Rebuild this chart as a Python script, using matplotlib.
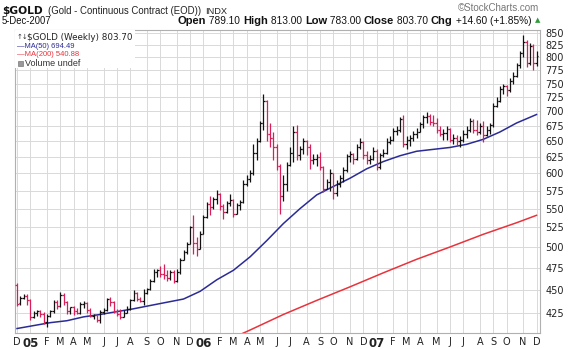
import numpy as np
import pandas as pd
import matplotlib
matplotlib.use("Agg")
import matplotlib.pyplot as plt
from matplotlib.collections import LineCollection
from matplotlib.patches import Rectangle
from matplotlib.ticker import NullLocator, FixedLocator

# ---- weekly $GOLD bars (week starting 6-Dec-2004) ----
first_week = "2004-12-06"

opens = [455, 435, 441, 443, 438, 420, 425, 427, 423, 415, 421, 427, 436, 432, 444, 436,
         427, 431, 427, 425, 434, 435, 428, 421, 422, 417, 426, 428, 439, 436, 427, 423,
         420, 425, 429, 438, 446, 440, 437, 446, 451, 460, 470, 472, 468, 466, 463, 470,
         460, 470, 484, 494, 504, 525, 505, 497, 517, 538, 556, 552, 563, 570, 553, 545,
         557, 562, 543, 555, 559, 584, 592, 600, 632, 650, 680, 718, 662, 655, 640, 612,
         568, 585, 613, 632, 665, 628, 638, 650, 640, 620, 622, 625, 610, 578, 588, 600,
         572, 585, 594, 605, 626, 630, 622, 640, 648, 628, 620, 622, 635, 610, 628, 632,
         648, 652, 666, 668, 686, 645, 652, 655, 662, 665, 678, 690, 692, 682, 680, 668,
         662, 664, 670, 652, 656, 650, 652, 662, 668, 684, 668, 665, 675, 660, 668, 676,
         710, 718, 740, 745, 738, 755, 765, 786, 808, 832, 789, 824, 789.10]
highs = [457, 443, 445, 445, 439, 427, 428, 428, 426, 424, 428, 438, 438, 447, 446, 437,
         431, 432, 430, 436, 437, 436, 430, 424, 422, 428, 430, 441, 442, 437, 429, 429,
         428, 432, 440, 449, 447, 442, 451, 452, 462, 474, 474, 477, 479, 472, 472, 472,
         474, 486, 496, 506, 527, 541, 513, 520, 541, 559, 567, 566, 576, 572, 556, 560,
         570, 563, 558, 562, 590, 598, 605, 645, 655, 684, 731, 720, 680, 665, 646, 615,
         598, 617, 640, 675, 676, 642, 655, 652, 645, 630, 630, 633, 612, 592, 607, 600,
         590, 598, 610, 630, 635, 632, 646, 656, 650, 635, 628, 640, 638, 632, 637, 655,
         658, 672, 675, 691, 693, 658, 660, 666, 672, 682, 693, 698, 696, 694, 688, 675,
         670, 675, 672, 662, 660, 658, 668, 675, 688, 687, 685, 680, 683, 675, 680, 715,
         725, 745, 750, 748, 760, 772, 790, 812, 846, 835, 830, 828, 813.00]
lows = [432, 433, 439, 433, 417, 419, 421, 420, 413, 410, 420, 425, 429, 431, 433, 424,
        424, 422, 423, 424, 430, 425, 420, 418, 415, 414, 423, 427, 432, 425, 421, 418,
        420, 425, 428, 437, 437, 436, 433, 445, 449, 459, 464, 464, 462, 460, 461, 457,
        458, 468, 484, 491, 504, 492, 489, 498, 516, 537, 541, 549, 556, 548, 536, 544,
        553, 538, 542, 548, 557, 582, 588, 598, 620, 648, 668, 651, 640, 620, 605, 543,
        561, 575, 612, 617, 620, 620, 630, 628, 607, 615, 612, 605, 573, 578, 575, 563,
        568, 580, 588, 602, 618, 615, 620, 638, 622, 615, 615, 620, 605, 606, 625, 630,
        645, 650, 660, 665, 640, 638, 642, 650, 655, 665, 672, 680, 676, 675, 664, 658,
        652, 652, 648, 645, 644, 640, 648, 655, 665, 664, 660, 662, 648, 658, 662, 674,
        708, 717, 730, 728, 735, 750, 762, 780, 800, 782, 786, 775, 783.00]
closes = [434, 441, 443, 438, 420, 425, 427, 423, 415, 421, 427, 436, 432, 444, 436, 427,
          431, 427, 425, 434, 435, 428, 421, 422, 417, 426, 428, 439, 436, 427, 423, 420,
          425, 429, 438, 446, 440, 437, 446, 451, 460, 470, 472, 468, 466, 463, 470, 460,
          470, 484, 494, 504, 525, 505, 497, 517, 538, 556, 552, 563, 570, 553, 545, 557,
          562, 543, 555, 559, 584, 592, 600, 632, 650, 680, 718, 662, 655, 640, 612, 568,
          585, 613, 632, 665, 628, 638, 650, 640, 620, 622, 625, 610, 578, 588, 600, 572,
          585, 594, 605, 626, 630, 622, 640, 648, 628, 620, 622, 635, 610, 628, 632, 648,
          652, 666, 668, 686, 645, 652, 655, 662, 665, 678, 690, 692, 682, 680, 668, 662,
          664, 670, 652, 656, 650, 652, 662, 668, 684, 668, 665, 675, 660, 668, 676, 710,
          718, 740, 745, 738, 755, 765, 786, 808, 832, 789, 824, 789.10, 803.70]

# ---- moving averages, sampled by week number ----
ma50_week = [0, 5, 10, 15, 20, 25, 30, 35, 40, 45, 50, 55, 60, 65, 70, 75,
             80, 85, 90, 95, 100, 105, 110, 115, 120, 125, 130, 135, 140, 145, 150, 156]
ma50_value = [408.5, 411.5, 414.5, 416.5, 420.5, 423, 426, 429, 432.5, 436, 439.5, 448,
              461, 472, 488, 508, 530, 550, 569, 581, 593, 607, 618, 627, 634, 637,
              640, 645, 653, 665, 680, 694.49]
ma200_week = [66, 70, 80, 90, 100, 110, 120, 130, 140, 150, 156]
ma200_value = [401, 407, 423, 438, 453, 469, 485, 500, 516, 531, 540.88]

price_ticks = [425, 450, 475, 500, 525, 550, 575, 600, 625, 650, 675, 700,
               725, 750, 775, 800, 825, 850]
month_letters = ["J", "F", "M", "A", "M", "J", "J", "A", "S", "O", "N", "D"]

UP = "#111111"
DOWN = "#d81e5b"
MA50_C = "#2b2b96"
MA200_C = "#e8333c"
GRID = "#d9d9d9"
SANS = "Liberation Sans"

W, H = 576, 349
fig = plt.figure(figsize=(W / 100, H / 100), dpi=100)
fig.patch.set_facecolor("white")
renderer = fig.canvas.get_renderer()


def fx(px):
    return px / W


def fy(py):
    return 1 - py / H


def fitted_text(x0, x1, yc, s, **kw):
    """Place a text between pixel columns x0..x1, sizing the font to that span."""
    t = fig.text(fx(x0), fy(yc), s, va="center", fontsize=10, **kw)
    w = t.get_window_extent(renderer).width
    t.set_fontsize(10 * (x1 - x0) / w)
    return t


ax = fig.add_axes([fx(15), fy(333), fx(525), 303 / H])

n = len(closes)
dates = pd.date_range(first_week, periods=n, freq="7D")

# OHLC bars, red when the close is below the previous close
segs, cols = [], []
prev = opens[0]
for i in range(n):
    c = DOWN if closes[i] < prev else UP
    segs += [[(i, lows[i]), (i, highs[i])],
             [(i - 0.5, opens[i]), (i, opens[i])],
             [(i, closes[i]), (i + 0.5, closes[i])]]
    cols += [c, c, c]
    prev = closes[i]
ax.add_collection(LineCollection(segs, colors=cols, linewidths=0.9, zorder=3))

ax.plot(ma50_week, ma50_value, color=MA50_C, lw=1.1, zorder=2)
ax.plot(ma200_week, ma200_value, color=MA200_C, lw=1.1, zorder=2)

ax.set_yscale("log")
ax.set_ylim(404.0, 856.4)
ax.set_xlim(-0.6, n - 1 + 1.05)

# price axis on the right
ax.yaxis.tick_right()
ax.yaxis.set_major_locator(FixedLocator(price_ticks))
ax.yaxis.set_minor_locator(NullLocator())
ax.set_yticklabels([str(v) for v in price_ticks])
ax.tick_params(axis="y", length=0, pad=4, labelsize=7, labelcolor="#222222")

# month ticks at the first bar of every month
tick_pos, tick_lab, is_year = [], [], []
for i, d in enumerate(dates):
    if i == 0 or d.month != dates[i - 1].month:
        tick_pos.append(i)
        if d.month == 1:
            tick_lab.append(d.strftime("%y"))
            is_year.append(True)
        else:
            tick_lab.append(month_letters[d.month - 1])
            is_year.append(False)
ax.set_xticks(tick_pos)
ax.set_xticklabels(tick_lab)
ax.xaxis.set_minor_locator(NullLocator())
ax.tick_params(axis="x", length=0, pad=3, labelsize=7, labelcolor="#222222")
for lab, yr in zip(ax.get_xticklabels(), is_year):
    if yr:
        lab.set_fontweight("bold")
        lab.set_fontsize(8.5)

ax.grid(True, color=GRID, lw=0.7, zorder=0)
ax.set_axisbelow(True)
for s in ax.spines.values():
    s.set_color("#b0b0b0")
    s.set_linewidth(0.8)

# legend block in the upper-left corner of the plot
ax.add_patch(Rectangle((0, 1), 120 / 525, -38 / 303, transform=ax.transAxes,
                       facecolor="white", edgecolor="none", zorder=4))
fig.text(fx(16.5), fy(37), "\u2191\u2193", fontsize=5, va="center", color="#333333")
fitted_text(27, 132, 37, "$GOLD (Weekly) 803.70", color="#222222")
fitted_text(17, 74, 46, "\u2014MA(50) 694.49", color=MA50_C, family=SANS)
fitted_text(17, 80, 55, "\u2014MA(200) 540.88", color=MA200_C, family=SANS)
fig.add_artist(Rectangle((fx(18), fy(66)), 5 / W, 5 / H, facecolor="#999999",
                         edgecolor="#666666", lw=0.4, transform=fig.transFigure))
fitted_text(25, 80, 63.5, "Volume undef", color="#333333", family=SANS)

# header
fitted_text(2, 43, 10.5, "$GOLD", fontweight="bold", color="#111111", family="DejaVu Sans")
fitted_text(48, 201, 11, "(Gold - Continuous Contract (EOD))", color="#222222", family=SANS)
fitted_text(205, 227, 11.5, "INDX", color="#222222", family=SANS)
fitted_text(2, 52, 21, "5-Dec-2007", color="#111111", family=SANS)
fitted_text(458, 540, 8, "\u00a9StockCharts.com", color="#777777", family=SANS)

parts = [("Open", True), (" 789.10 ", False), ("High", True), (" 813.00 ", False),
         ("Low", True), (" 783.00 ", False), ("Close", True), (" 803.70 ", False),
         ("Chg", True), (" +14.60 (+1.85%)", False)]
pieces, xpos = [], 0.0
for txt, bold in parts:
    t = fig.text(0, fy(21), txt, fontsize=8 if bold else 7.3, family=SANS,
                 fontweight="bold" if bold else "normal", va="center", color="#111111")
    pieces.append((t, xpos))
    xpos += t.get_window_extent(renderer).width
scale = (531 - 178) / xpos
for t, off in pieces:
    t.set_fontsize(t.get_fontsize() * scale)
    t.set_x(fx(178 + off * scale))
fig.text(fx(534.5), fy(20.5), "\u25b2", fontsize=5, va="center", color="#2e9a3a")

fig.savefig("out.png", dpi=100)
